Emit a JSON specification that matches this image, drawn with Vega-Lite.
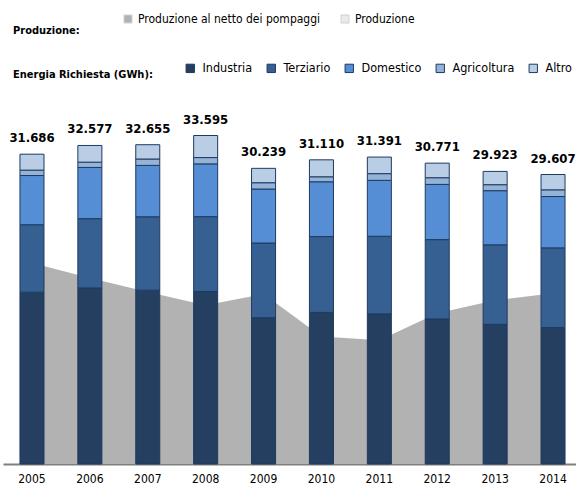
{
  "$schema": "https://vega.github.io/schema/vega-lite/v6.json",
  "width": 576,
  "height": 352,
  "autosize": {"type": "none"},
  "padding": {"top": 112, "left": 0, "right": 0, "bottom": 30},
  "config": {
    "view": {"stroke": null},
    "font": "DejaVu Sans Condensed, DejaVu Sans, sans-serif",
    "locale": {"number": {"decimal": ",", "thousands": ".", "grouping": [3], "currency": ["€", ""]}}
  },
  "datasets": {
    "settori": [
      {"settore": "Industria", "ordine": 1},
      {"settore": "Terziario", "ordine": 2},
      {"settore": "Domestico", "ordine": 3},
      {"settore": "Agricoltura", "ordine": 4},
      {"settore": "Altro", "ordine": 5}
    ],
    "prod": [
      {"anno": "2005", "serie": "Produzione al netto dei pompaggi", "GWh": 20553},
      {"anno": "2006", "serie": "Produzione al netto dei pompaggi", "GWh": 19021},
      {"anno": "2007", "serie": "Produzione al netto dei pompaggi", "GWh": 17602},
      {"anno": "2008", "serie": "Produzione al netto dei pompaggi", "GWh": 16234},
      {"anno": "2009", "serie": "Produzione al netto dei pompaggi", "GWh": 17377},
      {"anno": "2010", "serie": "Produzione al netto dei pompaggi", "GWh": 13038},
      {"anno": "2011", "serie": "Produzione al netto dei pompaggi", "GWh": 12660},
      {"anno": "2012", "serie": "Produzione al netto dei pompaggi", "GWh": 15417},
      {"anno": "2013", "serie": "Produzione al netto dei pompaggi", "GWh": 16744},
      {"anno": "2014", "serie": "Produzione al netto dei pompaggi", "GWh": 17469}
    ],
    "bars": [
      {"anno": "2005", "settore": "Industria", "GWh": 17571},
      {"anno": "2005", "settore": "Terziario", "GWh": 6904},
      {"anno": "2005", "settore": "Domestico", "GWh": 5028},
      {"anno": "2005", "settore": "Agricoltura", "GWh": 551},
      {"anno": "2005", "settore": "Altro", "GWh": 1632},
      {"anno": "2006", "settore": "Industria", "GWh": 18004},
      {"anno": "2006", "settore": "Terziario", "GWh": 7087},
      {"anno": "2006", "settore": "Domestico", "GWh": 5239},
      {"anno": "2006", "settore": "Agricoltura", "GWh": 541},
      {"anno": "2006", "settore": "Altro", "GWh": 1706},
      {"anno": "2007", "settore": "Industria", "GWh": 17782},
      {"anno": "2007", "settore": "Terziario", "GWh": 7504},
      {"anno": "2007", "settore": "Domestico", "GWh": 5252},
      {"anno": "2007", "settore": "Agricoltura", "GWh": 655},
      {"anno": "2007", "settore": "Altro", "GWh": 1462},
      {"anno": "2008", "settore": "Industria", "GWh": 17647},
      {"anno": "2008", "settore": "Terziario", "GWh": 7651},
      {"anno": "2008", "settore": "Domestico", "GWh": 5397},
      {"anno": "2008", "settore": "Agricoltura", "GWh": 645},
      {"anno": "2008", "settore": "Altro", "GWh": 2255},
      {"anno": "2009", "settore": "Industria", "GWh": 14961},
      {"anno": "2009", "settore": "Terziario", "GWh": 7639},
      {"anno": "2009", "settore": "Domestico", "GWh": 5522},
      {"anno": "2009", "settore": "Agricoltura", "GWh": 644},
      {"anno": "2009", "settore": "Altro", "GWh": 1473},
      {"anno": "2010", "settore": "Industria", "GWh": 15504},
      {"anno": "2010", "settore": "Terziario", "GWh": 7752},
      {"anno": "2010", "settore": "Domestico", "GWh": 5610},
      {"anno": "2010", "settore": "Agricoltura", "GWh": 510},
      {"anno": "2010", "settore": "Altro", "GWh": 1734},
      {"anno": "2011", "settore": "Industria", "GWh": 15353},
      {"anno": "2011", "settore": "Terziario", "GWh": 7937},
      {"anno": "2011", "settore": "Domestico", "GWh": 5720},
      {"anno": "2011", "settore": "Agricoltura", "GWh": 684},
      {"anno": "2011", "settore": "Altro", "GWh": 1697},
      {"anno": "2012", "settore": "Industria", "GWh": 14839},
      {"anno": "2012", "settore": "Terziario", "GWh": 8109},
      {"anno": "2012", "settore": "Domestico", "GWh": 5648},
      {"anno": "2012", "settore": "Agricoltura", "GWh": 684},
      {"anno": "2012", "settore": "Altro", "GWh": 1491},
      {"anno": "2013", "settore": "Industria", "GWh": 14283},
      {"anno": "2013", "settore": "Terziario", "GWh": 8131},
      {"anno": "2013", "settore": "Domestico", "GWh": 5540},
      {"anno": "2013", "settore": "Agricoltura", "GWh": 612},
      {"anno": "2013", "settore": "Altro", "GWh": 1357},
      {"anno": "2014", "settore": "Industria", "GWh": 13949},
      {"anno": "2014", "settore": "Terziario", "GWh": 8156},
      {"anno": "2014", "settore": "Domestico", "GWh": 5250},
      {"anno": "2014", "settore": "Agricoltura", "GWh": 686},
      {"anno": "2014", "settore": "Altro", "GWh": 1566}
    ]
  },
  "encoding": {
    "x": {
      "field": "anno",
      "type": "ordinal",
      "scale": {"range": [3, 582], "paddingInner": 0.585, "paddingOuter": 0.293},
      "axis": {
        "title": null,
        "ticks": false,
        "tickSize": 0,
        "labelAngle": 0,
        "labelFontSize": 12,
        "labelColor": "#000000",
        "labelPadding": 9,
        "domainColor": "#7F7F7F",
        "domainWidth": 2,
        "grid": false
      }
    }
  },
  "layer": [
    {
      "data": {"name": "prod"},
      "mark": {"type": "area", "opacity": 1},
      "encoding": {
        "y": {"field": "GWh", "type": "quantitative", "scale": {"domain": [0, 36000]}, "axis": null},
        "color": {
          "field": "serie",
          "type": "nominal",
          "scale": {"domain": ["Produzione al netto dei pompaggi", "Produzione"], "range": ["#B2B2B2", "#EAEAEA"]},
          "legend": {
            "title": "Produzione:",
            "orient": "none",
            "legendX": 13,
            "legendY": -99,
            "direction": "horizontal",
            "titleOrient": "left",
            "titleAnchor": "end",
            "titleBaseline": "top",
            "titlePadding": 42,
            "titleFontSize": 11,
            "titleFontWeight": "bold",
            "titleColor": "#000000",
            "labelFontSize": 12,
            "labelColor": "#000000",
            "labelLimit": 400,
            "labelOffset": 4,
            "columnPadding": 18,
            "symbolType": "square",
            "symbolSize": 64,
            "symbolOpacity": 1,
            "symbolStrokeColor": "#D0D0D0",
            "symbolStrokeWidth": 1
          }
        }
      }
    },
    {
      "data": {"name": "bars"},
      "transform": [
        {"lookup": "settore", "from": {"data": {"name": "settori"}, "key": "settore", "fields": ["ordine"]}}
      ],
      "mark": {"type": "bar", "stroke": "#1F3A60", "strokeWidth": 1},
      "encoding": {
        "y": {"field": "GWh", "type": "quantitative", "stack": "zero", "scale": {"domain": [0, 36000]}, "axis": null},
        "order": {"field": "ordine", "type": "quantitative", "sort": "ascending"},
        "color": {
          "field": "settore",
          "type": "nominal",
          "sort": ["Industria", "Terziario", "Domestico", "Agricoltura", "Altro"],
          "scale": {
            "domain": ["Industria", "Terziario", "Domestico", "Agricoltura", "Altro"],
            "range": ["#243F60", "#366092", "#558ED5", "#95B3D7", "#B9CDE5"]
          },
          "legend": {
            "title": "Energia Richiesta (GWh):",
            "orient": "none",
            "legendX": 13,
            "legendY": -50,
            "direction": "horizontal",
            "titleOrient": "left",
            "titleAnchor": "end",
            "titleBaseline": "middle",
            "titlePadding": 31,
            "titleFontSize": 11,
            "titleFontWeight": "bold",
            "titleColor": "#000000",
            "labelFontSize": 12.5,
            "labelColor": "#000000",
            "labelLimit": 400,
            "labelOffset": 6,
            "columnPadding": 12,
            "symbolType": "square",
            "symbolSize": 70,
            "symbolOpacity": 1,
            "symbolStrokeColor": "#1F3A60",
            "symbolStrokeWidth": 1
          }
        }
      }
    },
    {
      "data": {"name": "bars"},
      "mark": {"type": "text", "fontWeight": "bold", "fontSize": 13, "dy": -12, "baseline": "alphabetic", "color": "#000000"},
      "encoding": {
        "y": {"aggregate": "sum", "field": "GWh", "type": "quantitative", "scale": {"domain": [0, 36000]}, "axis": null},
        "text": {"aggregate": "sum", "field": "GWh", "type": "quantitative", "format": ",.0f"}
      }
    }
  ],
  "resolve": {"scale": {"color": "independent"}}
}
